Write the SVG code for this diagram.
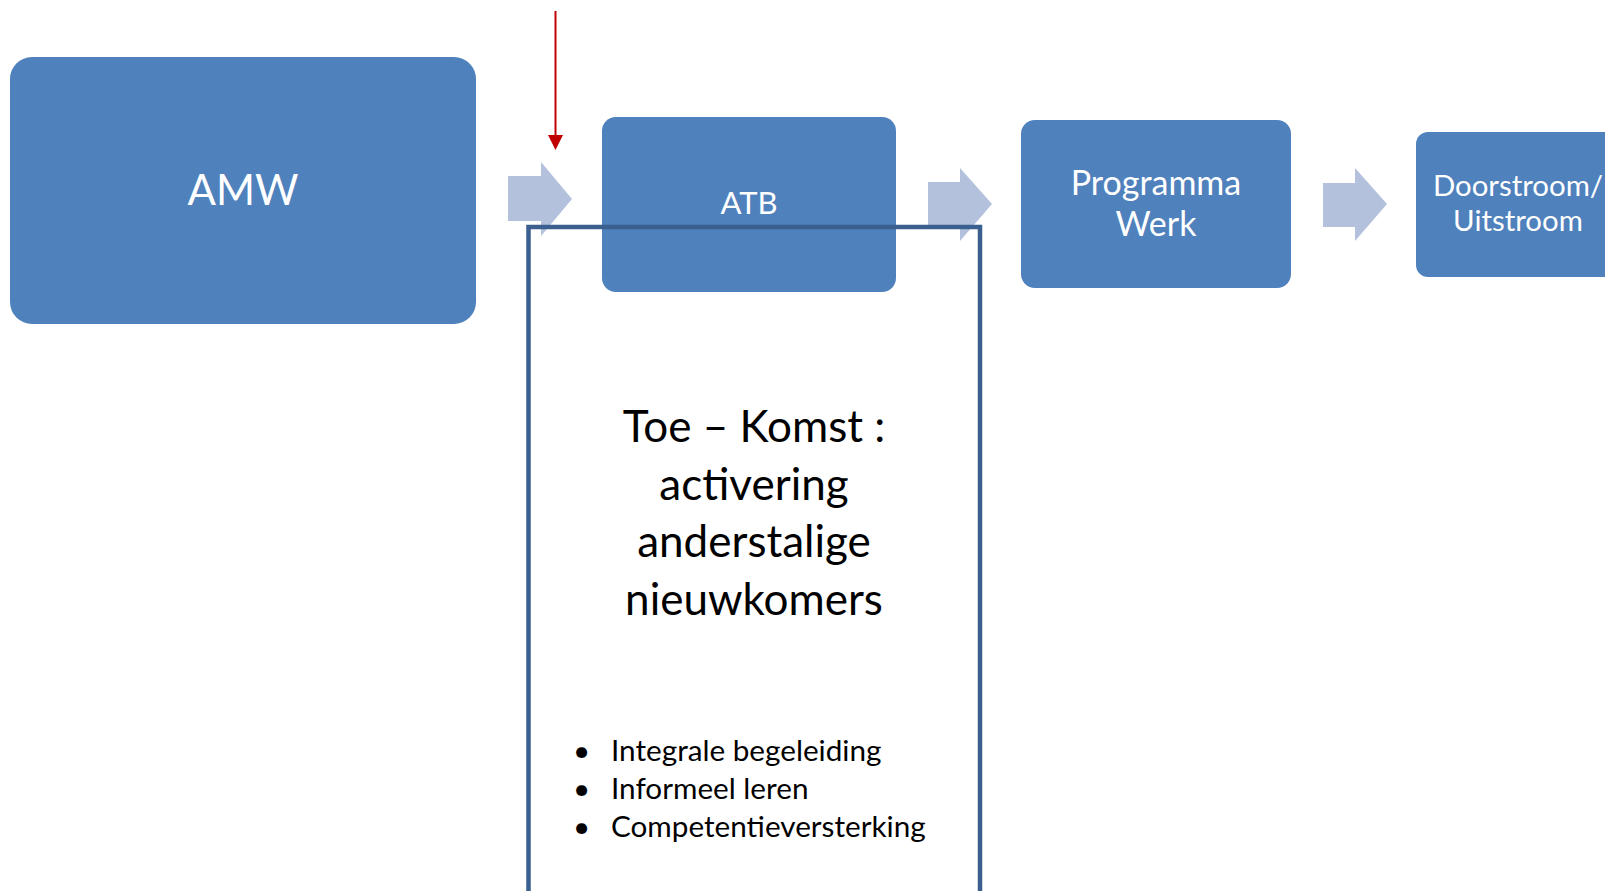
<svg xmlns="http://www.w3.org/2000/svg" width="1605" height="891" viewBox="0 0 1605 891">
<defs>
<style>
.box{fill:#4F81BD;}
.chev{fill:#B3C1DD;}
.wt{fill:#FFFFFF;font-family:Lato,"Liberation Sans",sans-serif;text-anchor:middle;}
.bk{fill:#000000;font-family:Lato,"Liberation Sans",sans-serif;}
</style>
</defs>
<rect width="1605" height="891" fill="#FFFFFF"/>
<g id="connectors">
<polygon class="chev" points="508,176 541,176 541,162 572,199 541,236 541,221 508,221"/>
<polygon class="chev" points="928,182 960,182 960,168 992,204 960,241 960,226 928,226"/>
<polygon class="chev" points="1323,183 1355,183 1355,168 1387,204 1355,241 1355,227 1323,227"/>
<line x1="555.5" y1="11" x2="555.5" y2="137" stroke="#C00000" stroke-width="2"/>
<polygon points="548,135 563,135 555.5,150" fill="#C00000"/>
</g>
<g id="node-amw">
<rect class="box" x="10" y="57" width="466" height="267" rx="22"/>
<text class="wt" x="243" y="205" font-size="42">AMW</text>
</g>
<g id="node-atb">
<rect class="box" x="602" y="117" width="294" height="175" rx="14"/>
<text class="wt" x="749" y="214" font-size="31">ATB</text>
</g>
<g id="node-programma">
<rect class="box" x="1021" y="120" width="270" height="168" rx="14"/>
<text class="wt" x="1156" y="195" font-size="34">Programma</text>
<text class="wt" x="1156" y="236" font-size="34">Werk</text>
</g>
<g id="node-doorstroom">
<rect class="box" x="1416" y="132" width="210" height="145" rx="12"/>
<text class="wt" x="1518" y="196" font-size="29.4">Doorstroom/</text>
<text class="wt" x="1518" y="231" font-size="29.4">Uitstroom</text>
</g>
<g id="node-toekomst">
<rect x="528.5" y="227" width="451.5" height="700" fill="none" stroke="#3B6090" stroke-width="4.5"/>
<g class="bk" font-size="44" text-anchor="middle">
<text x="754" y="442">Toe – Komst :</text>
<text x="754" y="500">activering</text>
<text x="754" y="557">anderstalige</text>
<text x="754" y="615">nieuwkomers</text>
</g>
<g class="bk" font-size="29.7">
<text x="573" y="761">•</text>
<text x="611" y="761">Integrale begeleiding</text>
<text x="573" y="799">•</text>
<text x="611" y="799">Informeel leren</text>
<text x="573" y="837">•</text>
<text x="611" y="837">Competentieversterking</text>
</g>
</g>
</svg>
